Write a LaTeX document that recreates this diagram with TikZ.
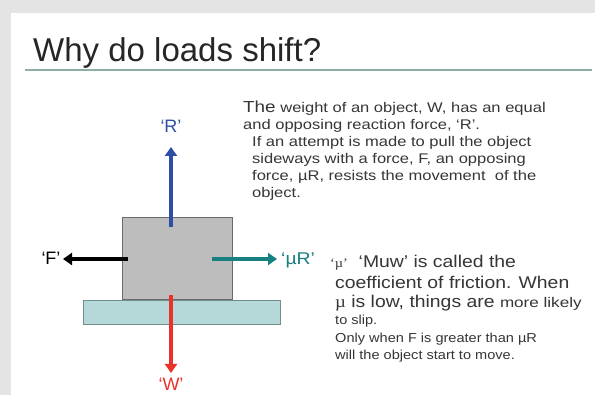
\documentclass[tikz,border=0pt]{standalone}
\usepackage{fontspec}
\setmainfont{Liberation Sans}
\newfontfamily\wideA[FakeStretch=1.18]{Liberation Sans}
\newfontfamily\wideB[FakeStretch=1.12]{Liberation Sans}
\newfontfamily\wideC[FakeStretch=1.14]{Liberation Sans}
\newfontfamily\wideD[FakeStretch=1.22]{Liberation Sans}
\newfontfamily\serifmu[FakeStretch=1.1]{Liberation Serif}
\usetikzlibrary{arrows.meta}
\definecolor{bandgray}{HTML}{E4E4E4}
\definecolor{txt}{HTML}{363636}
\definecolor{rule}{HTML}{8FAEA6}
\definecolor{boxfill}{HTML}{BDBDBD}
\definecolor{boxline}{HTML}{6A6A6A}
\definecolor{platfill}{HTML}{B5D8D8}
\definecolor{platline}{HTML}{708C8C}
\definecolor{rblue}{HTML}{2E4DA6}
\definecolor{wred}{HTML}{E8322A}
\definecolor{muteal}{HTML}{178080}
\tikzset{
  force/.style={line width=3.6pt,-{Triangle[width=12pt,length=9pt]}},
  lbl/.style={inner sep=0pt,font=\fontsize{18}{18}\selectfont},
  small/.style={inner sep=0pt,anchor=base west,text=txt,font=\wideA\fontsize{14}{14}\selectfont},
  smalllow/.style={inner sep=0pt,anchor=base west,text=txt,font=\wideB\fontsize{13}{13}\selectfont},
  big/.style={inner sep=0pt,anchor=base west,text=txt,font=\wideC\fontsize{17}{17}\selectfont}
}
\begin{document}
\begin{tikzpicture}[x=1pt,y=-1pt]
\useasboundingbox (0,0) rectangle (595,395);
\fill[bandgray] (0,0) rectangle (595,395);
\fill[white] (11,13) rectangle (595,395);
\node[inner sep=0pt,anchor=base west,text=black!85,font=\fontsize{33}{33}\selectfont] (title) at (33,62) {Why do loads shift?};
\draw[rule,line width=1.6pt] (25,70) coordinate (ra) -- (592,70) coordinate (rb);
% platform and box
\node[draw=platline,fill=platfill,line width=1pt,minimum width=197pt,minimum height=24pt,inner sep=0pt] (plat) at (181.5,313) {};
\node[draw=boxline,fill=boxfill,line width=1pt,minimum width=110pt,minimum height=82pt,inner sep=0pt] (box) at (177,259) {};
% force arrows
\coordinate (r0) at (171,227); \coordinate (r1) at (171,147);
\coordinate (w0) at (171,295); \coordinate (w1) at (171,373);
\coordinate (f0) at (128,259); \coordinate (f1) at (63,259);
\coordinate (m0) at (212,259); \coordinate (m1) at (277,259);
\draw[force,rblue] (r0) -- (r1);
\draw[force,wred] (w0) -- (w1);
\draw[force,black] (f0) -- (f1);
\draw[force,muteal] (m0) -- (m1);
\node[lbl,text=rblue] (R) at (171,126) {‘R’};
\node[lbl,text=wred] (W) at (171,384) {‘W’};
\node[lbl,text=black] (F) at (51,258) {‘F’};
\node[inner sep=0pt,anchor=west,text=muteal,font=\wideC\fontsize{17}{17}\selectfont] (muR) at (281,260) {‘µR’};
% upper text
\node[small] (t1) at (243,113) {{\fontsize{16}{16}\selectfont The} weight of an object, W, has an equal};
\node[small] (t2) at (243,130) {and opposing reaction force, ‘R’.};
\node[small] (t3) at (252,147) {If an attempt is made to pull the object};
\node[small] (t4) at (252,164) {sideways with a force, F, an opposing};
\node[small] (t5) at (252,181) {force, µR, resists the movement\ \ of the};
\node[small] (t6) at (252,198) {object.};
% lower text
\node[big] (u1) at (330,268) {{\serifmu\fontsize{13}{13}\selectfont‘µ’}\ \ ‘Muw’ is called the};
\node[big] (u2) at (335,289) {coefficient of friction. When};
\node[big] (u3) at (335,308) {{\serifmu µ} is low, things are {\wideD\fontsize{14}{14}\selectfont more likely}};
\node[smalllow] (u4) at (335,325) {to slip.};
\node[smalllow] (u5) at (335,343) {Only when F is greater than µR};
\node[smalllow] (u6) at (335,360) {will the object start to move.};
\end{tikzpicture}
\end{document}
